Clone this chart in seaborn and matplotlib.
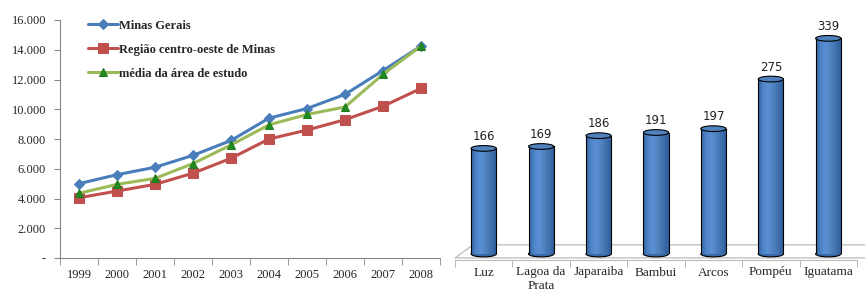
import numpy as np
import pandas as pd
import matplotlib
matplotlib.use('Agg')
import matplotlib.pyplot as plt
import seaborn as sns
from matplotlib.patches import Ellipse, Polygon
from matplotlib.colors import LinearSegmentedColormap
from matplotlib.ticker import FuncFormatter

# data
years = [1999, 2000, 2001, 2002, 2003, 2004, 2005, 2006, 2007, 2008]
minas_gerais = [5000, 5600, 6100, 6900, 7900, 9400, 10050, 11000, 12600, 14250]
centro_oeste = [4050, 4500, 4950, 5700, 6700, 8000, 8600, 9300, 10200, 11400]
media_area = [4350, 4950, 5350, 6350, 7600, 8950, 9650, 10150, 12350, 14250]

cidades = ['Luz', 'Lagoa da\nPrata', 'Japaraiba', 'Bambui', 'Arcos', 'Pompéu', 'Iguatama']
valores = [166, 169, 186, 191, 197, 275, 339]

sns.set_style('white')
plt.rcParams['font.family'] = ['Liberation Serif', 'DejaVu Serif']

fig = plt.figure(figsize=(8.65, 2.93), dpi=100)
ax1 = fig.add_axes([60/865, 1-258/293, 380/865, 238/293])
ax2 = fig.add_axes([455/865, 1-254/293, 402/865, 229/293])

#%% line chart
blue, red, green = '#4a7ebb', '#c0504d', '#9bbb59'
sns.lineplot(x=years, y=minas_gerais, ax=ax1, color=blue, lw=2.2, marker='D', markersize=5,
             markeredgecolor=blue, markerfacecolor=blue, label='Minas Gerais')
sns.lineplot(x=years, y=centro_oeste, ax=ax1, color=red, lw=2.2, marker='s', markersize=7,
             markeredgecolor=red, markerfacecolor=red, label='Região centro-oeste de Minas')
sns.lineplot(x=years, y=media_area, ax=ax1, color=green, lw=2.2, marker='^', markersize=6,
             markeredgecolor='#1f7a1f', markerfacecolor='#1f8c1f', label='média da área de estudo')

ax1.set_xlim(1998.5, 2008.5)
ax1.set_ylim(0, 16000)
ax1.set_yticks(range(0, 16001, 2000))
ax1.yaxis.set_major_formatter(FuncFormatter(lambda v, p: '-' if v == 0 else f'{int(v):,}'.replace(',', '.')))
ax1.set_xticks(years)
ax1.set_xticks(np.arange(1998.5, 2009, 1), minor=True)
ax1.tick_params(axis='x', which='major', length=0, labelsize=9, pad=8)
ax1.tick_params(axis='x', which='minor', length=5, color='#888888', bottom=True)
ax1.tick_params(axis='y', length=4, color='#888888', left=True, labelsize=9, pad=6)
for s in ['top', 'right']:
    ax1.spines[s].set_visible(False)
for s in ['left', 'bottom']:
    ax1.spines[s].set_color('#888888')
ax1.legend(loc='upper left', bbox_to_anchor=(0.045, 1.048), frameon=False, handlelength=2.4,
           handletextpad=0.05, labelspacing=0.95, prop={'weight': 'bold', 'size': 9})

#%% cylinder chart
df = pd.DataFrame({'cidade': cidades, 'valor': valores})
sns.barplot(data=df, x='cidade', y='valor', ax=ax2, color='#4f81bd', width=0.44,
            linewidth=0, saturation=1)
ax2.set_ylim(0, 360)
ax2.set_xlim(-0.5, 6.5)

cmap = LinearSegmentedColormap.from_list('cyl', ['#3464a3', '#4f85c9', '#5a8fd3', '#4f81bd', '#3f6fae', '#2d5b96'])
grad = np.linspace(0, 1, 64).reshape(1, -1)
eh = 9  # ellipse height in data units
for p, v in zip(ax2.patches, valores):
    x0, w = p.get_x(), p.get_width()
    im = ax2.imshow(grad, cmap=cmap, aspect='auto', extent=[x0, x0 + w, 0, v], zorder=2)
    im.set_clip_path(p)
    p.set_facecolor('none')
    ax2.add_patch(Ellipse((x0 + w/2, 0), w, eh, facecolor='#3a69a8', edgecolor='black', lw=0.8,
                          zorder=1.9, clip_on=False))
    ax2.plot([x0, x0], [0, v], color='black', lw=0.8, zorder=3)
    ax2.plot([x0 + w, x0 + w], [0, v], color='black', lw=0.8, zorder=3)
    ax2.add_patch(Ellipse((x0 + w/2, v), w, eh, facecolor='#4f81bd', edgecolor='black', lw=0.8,
                          zorder=4, clip_on=False))
    ax2.annotate(str(v), (x0 + w/2, v), xytext=(0, 4), textcoords='offset points', ha='center',
                 va='bottom', fontsize=8.5, family='DejaVu Sans', color='#222222')

# floor
floor = Polygon([(0, -0.017), (0.045, 0.04), (1.1, 0.04), (1.06, -0.017)], closed=True,
                transform=ax2.transAxes, facecolor='white', edgecolor='#bbbbbb', lw=0.9,
                zorder=0.5, clip_on=False)
ax2.add_patch(floor)

ax2.set_xlabel('')
ax2.set_ylabel('')
ax2.set_yticks([])
ax2.set_xticks(range(7))
ax2.set_xticks(np.arange(-0.5, 7, 1), minor=True)
ax2.tick_params(axis='x', which='major', length=0, labelsize=9.5, pad=5)
ax2.tick_params(axis='x', which='minor', length=5, color='#aaaaaa', bottom=True)
for lbl in ax2.get_xticklabels():
    lbl.set_linespacing(0.8)
ax2.spines['bottom'].set_position(('outward', 4))
ax2.spines['bottom'].set_color('#bbbbbb')
for s in ['top', 'right', 'left']:
    ax2.spines[s].set_visible(False)
ax2.set_facecolor('none')

fig.savefig('out.png', dpi=100, facecolor='white')
